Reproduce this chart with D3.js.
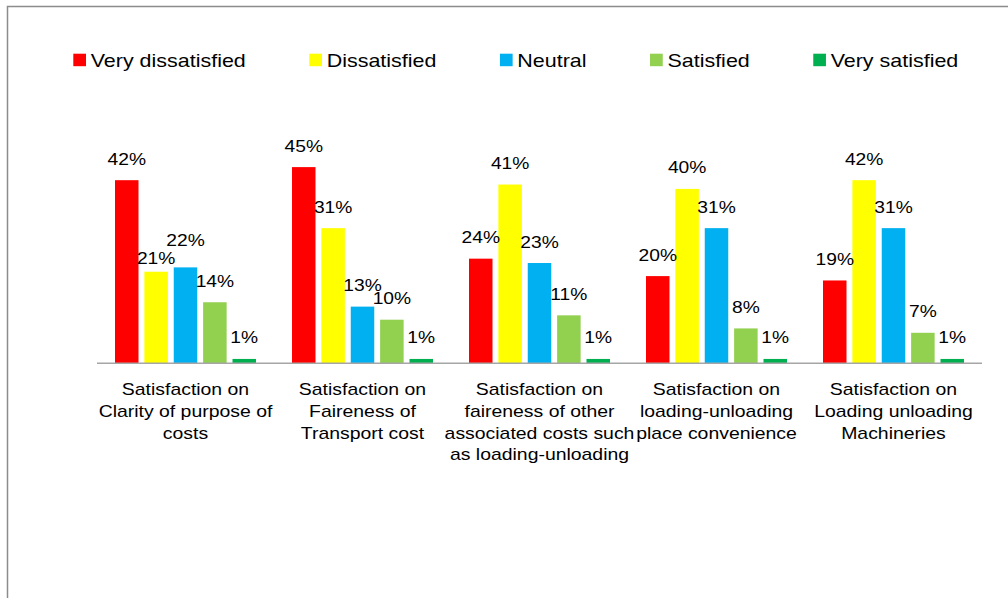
<!DOCTYPE html>
<html>
<head>
<meta charset="utf-8">
<script src="https://cdn.jsdelivr.net/npm/d3@7"></script>
<style>
  body { margin: 0; background: #fff; }
  text { font-family: "Liberation Sans", Arial, sans-serif; fill: #000; }
</style>
</head>
<body>
<div id="chart"></div>
<script>
// categories (one line per entry, as wrapped in the original)
var categories = [
  ["Satisfaction on", "Clarity of purpose of", "costs"],
  ["Satisfaction on", "Faireness of", "Transport cost"],
  ["Satisfaction on", "faireness of other", "associated costs such", "as loading-unloading"],
  ["Satisfaction on", "loading-unloading", "place convenience"],
  ["Satisfaction on", "Loading unloading", "Machineries"]
];

var seriesNames = ["Very dissatisfied", "Dissatisfied", "Neutral", "Satisfied", "Very satisfied"];

// percent values per series
var veryDissatisfied = [42, 45, 24, 20, 19];
var dissatisfied     = [21, 31, 41, 40, 42];
var neutral          = [22, 13, 23, 31, 31];
var satisfied        = [14, 10, 11, 8, 7];
var verySatisfied    = [1, 1, 1, 1, 1];

var seriesValues = [veryDissatisfied, dissatisfied, neutral, satisfied, verySatisfied];
var colors = ["#ff0000", "#ffff00", "#00b0f0", "#92d050", "#00b050"];

var width = 1008;
var height = 598;

var svg = d3.select('#chart')
  .append('svg')
  .attr('width', width)
  .attr('height', height);

// outer frame, cut off at right and bottom like the original
svg.append('rect')
  .attr('x', 7.5)
  .attr('y', 6.5)
  .attr('width', 1200)
  .attr('height', 800)
  .attr('fill', 'none')
  .attr('stroke', '#8c8c8c')
  .attr('stroke-width', 1.5);

var baseY = 363.3;

var x0 = d3.scaleBand()
  .domain(d3.range(categories.length))
  .range([97, 982]);

var x1 = d3.scaleBand()
  .domain(seriesNames)
  .range([18, x0.bandwidth() - 18])
  .paddingInner(0.2);

var y = d3.scaleLinear()
  .domain([0, 50])
  .range([baseY, baseY - 218]);

var color = d3.scaleOrdinal()
  .domain(seriesNames)
  .range(colors);

// flatten into one row per bar
var rows = [];
categories.forEach(function(c, ci) {
  seriesNames.forEach(function(s, si) {
    rows.push({ cat: ci, series: s, si: si, value: seriesValues[si][ci] });
  });
});

//bars
svg.append('g')
  .selectAll('rect')
  .data(rows)
  .enter()
  .append('rect')
  .attr('x', function(d) { return x0(d.cat) + x1(d.series); })
  .attr('y', function(d) { return y(d.value); })
  .attr('width', x1.bandwidth())
  .attr('height', function(d) { return baseY - y(d.value); })
  .attr('fill', function(d) { return color(d.series); });

// axis line
svg.append('line')
  .attr('x1', x0.range()[0])
  .attr('x2', x0.range()[1])
  .attr('y1', baseY)
  .attr('y2', baseY)
  .attr('stroke', '#a6a6a6')
  .attr('stroke-width', 1.5);

// label baselines, nudging neighbours that would collide (like Excel does)
rows.forEach(function(d) { d.ly = y(d.value) - 15.5; });
for (var i = 0; i < rows.length - 1; i++) {
  var a = rows[i], b = rows[i + 1];
  if (a.cat !== b.cat) continue;
  if (Math.abs(a.ly - b.ly) < 10) {
    var low = a.value < b.value ? a : b;
    var high = low === a ? b : a;
    low.ly = y(low.value) - 8;
    high.ly = y(high.value) - 21;
  }
}

// value labels (the source picture is horizontally stretched)
svg.append('g')
  .selectAll('text')
  .data(rows)
  .enter()
  .append('text')
  .attr('transform', function(d) {
    var cx = x0(d.cat) + x1(d.series) + x1.bandwidth() / 2;
    return 'translate(' + cx + ',' + d.ly + ') scale(1.18,1)';
  })
  .attr('text-anchor', 'middle')
  .style('font-size', '16.3px')
  .text(function(d) { return d.value + '%'; });

// category labels
var catLabels = svg.append('g')
  .selectAll('text')
  .data(categories)
  .enter()
  .append('text')
  .attr('transform', function(d, i) {
    return 'translate(' + (x0(i) + x0.bandwidth() / 2) + ',' + (baseY + 32) + ') scale(1.17,1)';
  })
  .attr('text-anchor', 'middle')
  .style('font-size', '16.6px');

catLabels.selectAll('tspan')
  .data(function(d) { return d; })
  .enter()
  .append('tspan')
  .attr('x', 0)
  .attr('dy', function(d, i) { return i === 0 ? 0 : 21.7; })
  .text(function(d) { return d; });

// legend
var legend = svg.append('g');
var lx = 73.3;
var legendStretch = 1.13;
seriesNames.forEach(function(s) {
  var item = legend.append('g').attr('transform', 'translate(' + lx + ',0)');
  item.append('rect')
    .attr('x', 0)
    .attr('y', 53.7)
    .attr('width', 12.7)
    .attr('height', 12.5)
    .attr('fill', color(s));
  var t = item.append('text')
    .attr('transform', 'translate(17.4,66.7) scale(' + legendStretch + ',1)')
    .style('font-size', '19px')
    .text(s);
  lx += 17.4 + t.node().getComputedTextLength() * legendStretch + 63.5;
});
</script>
</body>
</html>
